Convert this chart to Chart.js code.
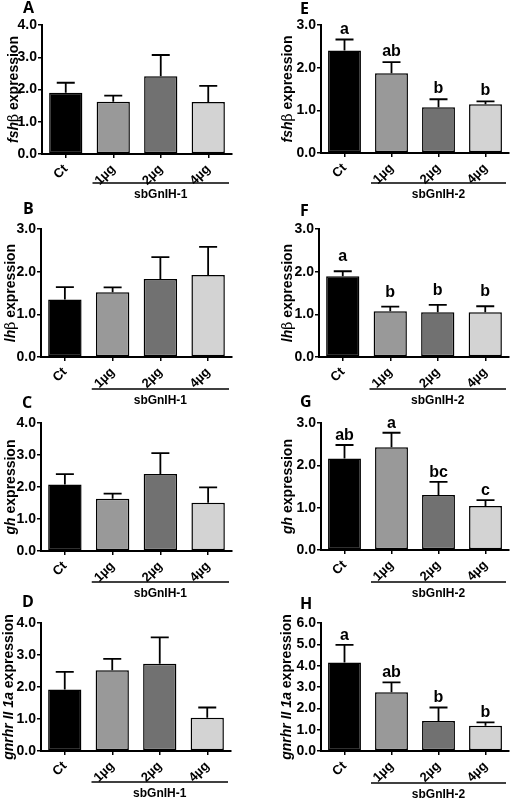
<!DOCTYPE html>
<html lang="en">
<head>
  <meta charset="UTF-8">
  <title>sbGnIH pituitary expression</title>
  <script src="https://cdn.jsdelivr.net/npm/chart.js@4.4.1/dist/chart.umd.min.js"></script>
  <style>
    body { margin: 0; background: #fff; }
    #fig { position: relative; width: 510px; height: 801px; overflow: hidden; }
    #fig canvas { position: absolute; }
    .plab { position: absolute; font: bold 16px "Open Sans", "Liberation Sans", sans-serif; line-height: 16px; color: #000; }
  </style>
</head>
<body>
  <div id="fig"></div>

  <script>
    // ---- data ----
    const categories = ['Ct', '1µg', '2µg', '4µg'];
    const barColors = ['#000000', '#999999', '#717171', '#d3d3d3'];

    // sbGnIH-1 (left column)
    const fshMean1 = [1.90, 1.62, 2.41, 1.61];
    const fshSem1  = [0.31, 0.19, 0.66, 0.50];
    const lhMean1  = [1.35, 1.52, 1.83, 1.92];
    const lhSem1   = [0.29, 0.11, 0.51, 0.66];
    const ghMean1  = [2.08, 1.63, 2.41, 1.51];
    const ghSem1   = [0.32, 0.16, 0.65, 0.48];
    const gnrMean1 = [1.92, 2.52, 2.73, 1.04];
    const gnrSem1  = [0.55, 0.36, 0.82, 0.32];

    // sbGnIH-2 (right column)
    const fshMean2 = [2.40, 1.87, 1.07, 1.14];
    const fshSem2  = [0.26, 0.26, 0.19, 0.07];
    const lhMean2  = [1.89, 1.07, 1.05, 1.05];
    const lhSem2   = [0.12, 0.11, 0.17, 0.14];
    const ghMean2  = [2.16, 2.43, 1.30, 1.04];
    const ghSem2   = [0.32, 0.34, 0.31, 0.14];
    const gnrMean2 = [4.15, 2.75, 1.41, 1.18];
    const gnrSem2  = [0.82, 0.47, 0.63, 0.16];

    const fshLetters2 = ['a', 'ab', 'b', 'b'];
    const lhLetters2  = ['a', 'b', 'b', 'b'];
    const ghLetters2  = ['ab', 'a', 'bc', 'c'];
    const gnrLetters2 = ['a', 'ab', 'b', 'b'];

    const fshTitle = [['fsh', 'i'], ['β', 'n'], [' expression', 'b']];
    const lhTitle  = [['lh', 'i'], ['β', 'n'], [' expression', 'b']];
    const ghTitle  = [['gh', 'i'], [' expression', 'b']];
    const gnrTitle = [['gnrhr II 1a', 'i'], [' expression', 'b']];

    // ---- panels: data + where each one sits ----
    const panels = [
      { tag: 'A', mean: fshMean1, sem: fshSem1, title: fshTitle, group: 'sbGnIH-1', max: 4,
        x: 0, y: 0, h: 205, left: 42, right: 232, top: 25, bottom: 154, lineY: 183, titleX: 14, tagX: 23, tagY: -1 },
      { tag: 'E', mean: fshMean2, sem: fshSem2, letters: fshLetters2, gap: 6, title: fshTitle, group: 'sbGnIH-2', max: 3,
        x: 255, y: 0, h: 205, left: 66, right: 254, top: 25, bottom: 153, lineY: 183, titleX: 33, tagX: 300, tagY: 0 },
      { tag: 'B', mean: lhMean1, sem: lhSem1, title: lhTitle, group: 'sbGnIH-1', max: 3,
        x: 0, y: 200, h: 205, left: 41, right: 232, top: 29, bottom: 157, lineY: 189, titleX: 11, tagX: 23, tagY: 200 },
      { tag: 'F', mean: lhMean2, sem: lhSem2, letters: lhLetters2, gap: 10, title: lhTitle, group: 'sbGnIH-2', max: 3,
        x: 255, y: 200, h: 205, left: 64, right: 254, top: 29, bottom: 157, lineY: 189, titleX: 33, tagX: 300, tagY: 202 },
      { tag: 'C', mean: ghMean1, sem: ghSem1, title: ghTitle, group: 'sbGnIH-1', max: 4,
        x: 0, y: 400, h: 205, left: 41, right: 232, top: 23, bottom: 151, lineY: 182, titleX: 11, tagX: 22, tagY: 394 },
      { tag: 'G', mean: ghMean2, sem: ghSem2, letters: ghLetters2, gap: 5, title: ghTitle, group: 'sbGnIH-2', max: 3,
        x: 255, y: 400, h: 205, left: 66, right: 254, top: 23, bottom: 150, lineY: 182, titleX: 33, tagX: 300, tagY: 393 },
      { tag: 'D', mean: gnrMean1, sem: gnrSem1, title: gnrTitle, group: 'sbGnIH-1', max: 4,
        x: 0, y: 600, h: 201, left: 41, right: 231, top: 23, bottom: 151, lineY: 182, titleX: 9, tagX: 22, tagY: 593 },
      { tag: 'H', mean: gnrMean2, sem: gnrSem2, letters: gnrLetters2, gap: 5, title: gnrTitle, group: 'sbGnIH-2', max: 6,
        x: 255, y: 600, h: 201, left: 66, right: 254, top: 23, bottom: 151, lineY: 183, titleX: 32, tagX: 300, tagY: 595 }
    ];

    const FONT = '"Liberation Sans", Arial, sans-serif';

    // error bars, significance letters, slanted x labels, group line and the mixed-style y title
    const decor = {
      id: 'decor',
      afterDatasetsDraw(chart, args, o) {
        const ctx = chart.ctx;
        const ys = chart.scales.y;
        const ds = chart.data.datasets[0];
        ctx.save();
        ctx.strokeStyle = '#000';
        ctx.fillStyle = '#000';
        ctx.lineWidth = 1.8;
        chart.getDatasetMeta(0).data.forEach((bar, i) => {
          const top = ys.getPixelForValue(ds.data[i] + o.sem[i]);
          ctx.beginPath();
          ctx.moveTo(bar.x, bar.y);
          ctx.lineTo(bar.x, top);
          ctx.moveTo(bar.x - 9, top);
          ctx.lineTo(bar.x + 9, top);
          ctx.stroke();
          if (o.letters) {
            ctx.font = 'bold 16px ' + FONT;
            ctx.textAlign = 'center';
            ctx.textBaseline = 'alphabetic';
            ctx.fillText(o.letters[i], bar.x, top - o.gap);
          }
        });
        ctx.restore();
      },
      afterDraw(chart, args, o) {
        const ctx = chart.ctx;
        const xs = chart.scales.x;
        ctx.save();
        ctx.strokeStyle = '#000';
        ctx.fillStyle = '#000';

        // category labels at 45 degrees, ending just under each tick
        ctx.font = 'bold 13px ' + FONT;
        ctx.textAlign = 'right';
        ctx.textBaseline = 'middle';
        chart.data.labels.forEach((lab, i) => {
          ctx.save();
          ctx.translate(xs.getPixelForValue(i), xs.top + 13);
          ctx.rotate(-Math.PI / 4);
          ctx.fillText(lab, 0, 0);
          ctx.restore();
        });

        const half = (xs.right - xs.left) / 8;
        const x1 = xs.getPixelForValue(1) - half + 3;
        const x2 = xs.getPixelForValue(3) + half - 3;
        ctx.lineWidth = 1.5;
        ctx.beginPath();
        ctx.moveTo(x1, o.lineY);
        ctx.lineTo(x2, o.lineY);
        ctx.stroke();
        ctx.font = 'bold 12px ' + FONT;
        ctx.textAlign = 'center';
        ctx.textBaseline = 'alphabetic';
        ctx.fillText(o.group, (x1 + x2) / 2, o.lineY + 15);

        // y title, rotated, with italic gene names
        const fonts = { i: 'italic bold 14px ' + FONT, n: '14px "DejaVu Serif", serif', b: 'bold 14px ' + FONT };
        let total = 0;
        o.title.forEach(([t, f]) => { ctx.font = fonts[f]; total += ctx.measureText(t).width; });
        const area = chart.chartArea;
        ctx.translate(o.titleX, (area.top + area.bottom) / 2);
        ctx.rotate(-Math.PI / 2);
        ctx.textAlign = 'left';
        ctx.textBaseline = 'middle';
        let pos = -total / 2;
        o.title.forEach(([t, f]) => {
          ctx.font = fonts[f];
          ctx.fillText(t, pos, 0);
          pos += ctx.measureText(t).width;
        });
        ctx.restore();
      }
    };

    const fig = document.getElementById('fig');

    panels.forEach(p => {
      const W = 255;
      const canvas = document.createElement('canvas');
      canvas.width = W;
      canvas.height = p.h;
      canvas.style.left = p.x + 'px';
      canvas.style.top = p.y + 'px';
      fig.appendChild(canvas);

      const tag = document.createElement('div');
      tag.className = 'plab';
      tag.textContent = p.tag;
      tag.style.left = p.tagX + 'px';
      tag.style.top = p.tagY + 'px';
      fig.appendChild(tag);

      new Chart(canvas.getContext('2d'), {
        type: 'bar',
        data: {
          labels: categories,
          datasets: [{
            data: p.mean,
            backgroundColor: barColors,
            borderColor: '#000',
            borderWidth: 1.5,
            borderSkipped: false,
            barPercentage: 0.7,
            categoryPercentage: 1.0
          }]
        },
        options: {
          responsive: false,
          animation: false,
          devicePixelRatio: 1,
          layout: { padding: { top: p.top, right: W - p.right, bottom: 0, left: 0 } },
          plugins: {
            legend: { display: false },
            tooltip: { enabled: false },
            decor: {
              sem: p.sem, letters: p.letters, gap: p.gap, group: p.group,
              lineY: p.lineY, title: p.title, titleX: p.titleX
            }
          },
          scales: {
            x: {
              afterFit: s => { s.height = p.h - p.bottom; },
              border: { display: true, color: '#000', width: 2 },
              grid: { display: true, drawOnChartArea: false, offset: false, color: '#000', lineWidth: 1.5, tickLength: 4 },
              ticks: { display: false }
            },
            y: {
              min: 0,
              max: p.max,
              afterFit: s => { s.width = p.left; },
              border: { display: true, color: '#000', width: 2 },
              grid: { display: true, drawOnChartArea: false, color: '#000', lineWidth: 1.5, tickLength: 4 },
              ticks: {
                stepSize: 1,
                color: '#000', font: { family: FONT, size: 14, weight: 'bold' }, padding: 1,
                callback: v => v.toFixed(1)
              }
            }
          }
        },
        plugins: [decor]
      });
    });
  </script>
</body>
</html>
